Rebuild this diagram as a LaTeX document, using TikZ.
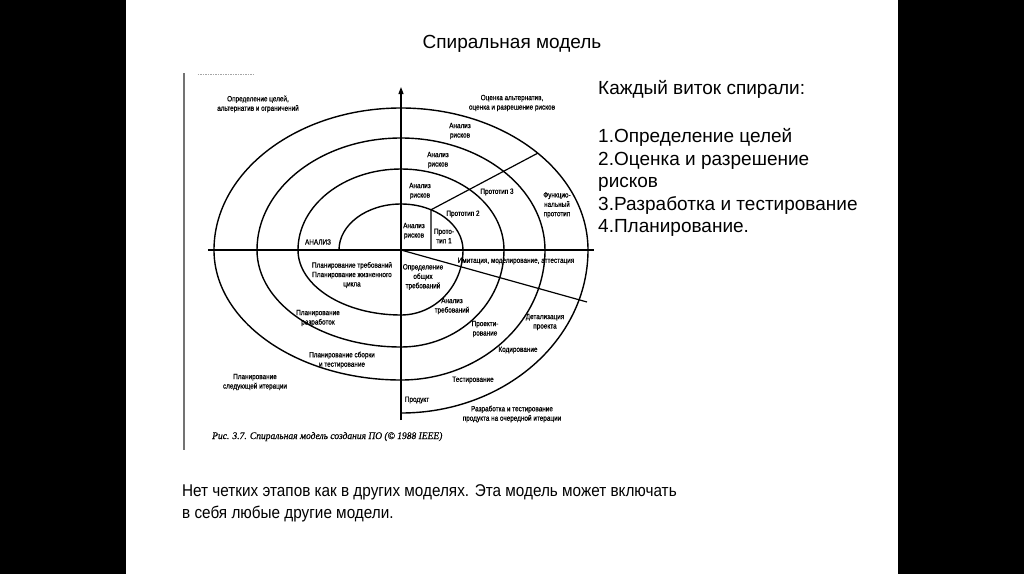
\documentclass[tikz,border=0pt]{standalone}
\usepackage{fontspec}
\setmainfont{Liberation Sans}
\newfontfamily\narrowsans[FakeStretch=0.84, FakeBold=0.7]{Liberation Sans}
\newfontfamily\bodysans[FakeStretch=0.9]{Liberation Sans}
\newfontfamily\scanserif[FakeStretch=0.95, FakeBold=0.4]{Liberation Serif}
\usetikzlibrary{arrows.meta}

\begin{document}
\begin{tikzpicture}[x=1pt, y=1pt,
    lbl/.style={font=\narrowsans\fontsize{7.6}{9.4}\selectfont, align=center, inner sep=0pt},
    spiral/.style={draw=black, line width=1.4pt},
    axis/.style={draw=black, line width=1.2pt},
    slidetext/.style={font=\fontsize{19}{22.5}\selectfont, align=left, inner sep=0pt, anchor=north west},
    bar/.style={fill=black}
]
    % Slide frame (black side bars)
    \useasboundingbox (-401,-324) rectangle (623,250);
    \fill[white] (-401,-324) rectangle (623,250);
    \fill[bar] (-401,-324) rectangle (-275,250);
    \fill[bar] (497,-324) rectangle (623,250);

    % Title
    \node[font=\fontsize{19}{22}\selectfont, anchor=base, inner sep=0pt] (TITLE) at (111,202) {Спиральная модель};

    % Scanned figure: margin line and stray print
    \draw[black!55, line width=2pt] (-217,177) -- (-217,-200);
    \draw[black!35, line width=1pt, dash pattern=on 1.5pt off 1pt] (-203,176) -- (-146,176);

    % Axes
    \coordinate (O) at (0,0);
    \coordinate (XL) at (-193,0);
    \coordinate (XR) at (193,0);
    \coordinate (YB) at (0,-170);
    \coordinate (YT) at (0,163);
    \draw[axis] (XL) -- (XR);
    \draw[axis, -{Triangle[length=7pt, width=5pt]}] (YB) -- (YT);

    % Spiral (half-ellipses joined on the axes)
    \draw[spiral] (-62,0)
        arc[start angle=180, end angle=0, x radius=62, y radius=46]
        arc[start angle=0, end angle=-90, x radius=62, y radius=65]
        arc[start angle=-90, end angle=-180, x radius=103, y radius=65]
        arc[start angle=180, end angle=0, x radius=103, y radius=81]
        arc[start angle=0, end angle=-90, x radius=103, y radius=97]
        arc[start angle=-90, end angle=-180, x radius=144, y radius=97]
        arc[start angle=180, end angle=0, x radius=144, y radius=112]
        arc[start angle=0, end angle=-90, x radius=144, y radius=130]
        arc[start angle=-90, end angle=-180, x radius=187, y radius=130]
        arc[start angle=180, end angle=0, x radius=187, y radius=142]
        arc[start angle=0, end angle=-90, x radius=187, y radius=163];

    % Prototype separators
    \coordinate (P1) at (61:62 and 46);
    \coordinate (P4) at (43:187 and 142);
    \coordinate (D1) at (186,-52);
    \draw[axis] (P1 |- O) -- (P1) -- (P4);
    \draw[axis] (O) -- (D1);

    % Quadrant headings
    \node[lbl] (GOALS) at (-143,146) {Определение целей,\\альтернатив и ограничений};
    \node[lbl] (EVAL) at (111,147) {Оценка альтернатив,\\оценка и разрешение рисков};

    % Risk analysis and prototypes
    \node[lbl] (RISK4) at (59,119) {Анализ\\рисков};
    \node[lbl] (RISK3) at (37,90) {Анализ\\рисков};
    \node[lbl] (RISK2) at (19,59) {Анализ\\рисков};
    \node[lbl] (RISK1) at (13,19) {Анализ\\рисков};
    \node[lbl] (PROTO1) at (43,14) {Прото-\\тип 1};
    \node[lbl] (PROTO2) at (62,36) {Прототип 2};
    \node[lbl] (PROTO3) at (96,58) {Прототип 3};
    \node[lbl] (PROTOF) at (156,45) {Функцио-\\нальный\\прототип};
    \node[lbl] (ANALYSIS) at (-83,8) {АНАЛИЗ};

    % Development
    \node[lbl] (SIM) at (115,-11) {Имитация, моделирование, аттестация};
    \node[lbl] (REQ) at (22,-27) {Определение\\общих\\требований};
    \node[lbl] (REQAN) at (51,-56) {Анализ\\требований};
    \node[lbl] (DESIGN) at (84,-79) {Проекти-\\рование};
    \node[lbl] (DETAIL) at (144,-72) {Детализация\\проекта};
    \node[lbl] (CODE) at (117,-100) {Кодирование};
    \node[lbl] (TEST) at (72,-130) {Тестирование};
    \node[lbl] (PROD) at (16,-150) {Продукт};
    \node[lbl] (DEVTEST) at (111,-164) {Разработка и тестирование\\продукта на очередной итерации};

    % Planning
    \node[lbl] (PLANREQ) at (-49,-25) {Планирование требований\\Планирование жизненного\\цикла};
    \node[lbl] (PLANDEV) at (-83,-68) {Планирование\\разработок};
    \node[lbl] (PLANINT) at (-59,-110) {Планирование сборки\\и тестирование};
    \node[lbl] (PLANNEXT) at (-146,-132) {Планирование\\следующей итерации};

    % Figure caption
    \node[font=\scanserif\itshape\fontsize{10}{12}\selectfont, anchor=base west, inner sep=0pt] (CAPTION) at (-189,-189)
        {Рис. 3.7. Спиральная модель создания ПО (© 1988 IEEE)};

    % Slide texts
    \node[slidetext] (TURN) at (197,170) {Каждый виток спирали:\\[26pt]
        1.Определение целей\\
        2.Оценка и разрешение\\
        рисков\\
        3.Разработка и тестирование\\
        4.Планирование.};
    \node[slidetext, font=\bodysans\fontsize{17}{22.5}\selectfont] (NOTE) at (-219,-234)
        {Нет четких этапов как в других моделях. Эта модель может включать\\
        в себя любые другие модели.};
\end{tikzpicture}
\end{document}
